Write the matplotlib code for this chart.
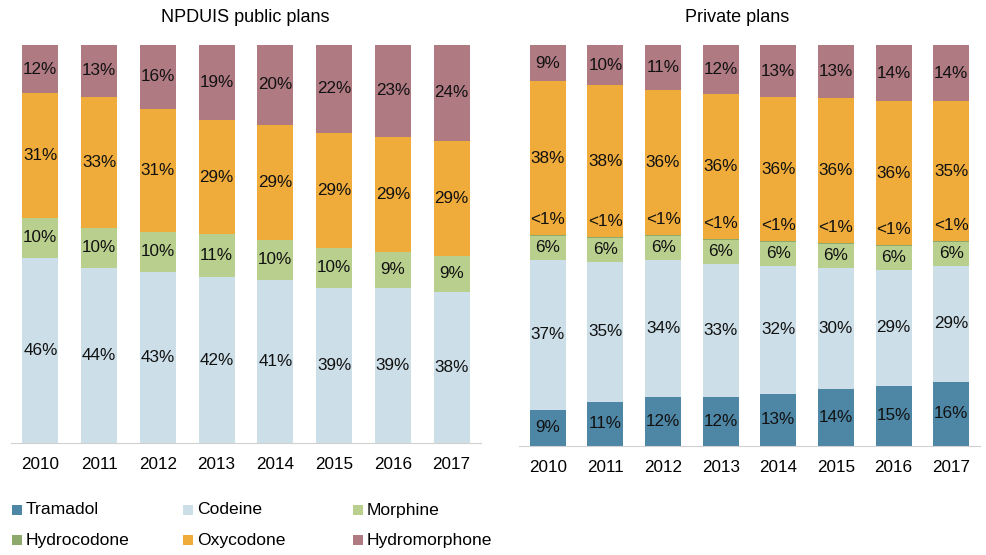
import numpy as np
import matplotlib
matplotlib.use("Agg")
import matplotlib.pyplot as plt
from matplotlib.patches import Rectangle

plt.rcParams['font.family'] = ['Liberation Sans', 'DejaVu Sans']

# Daten
years = ["2010", "2011", "2012", "2013", "2014", "2015", "2016", "2017"]
drugs = ["Tramadol", "Codeine", "Morphine", "Hydrocodone", "Oxycodone", "Hydromorphone"]
colors = ["#4E86A6", "#CCDEE7", "#B9CF8D", "#8DA96B", "#F0AC3B", "#AF7A82"]

# NPDUIS public plans (%)
pub_tramadol = [0, 0, 0, 0, 0, 0, 0, 0]
pub_codeine = [46, 44, 43, 42, 41, 39, 39, 38]
pub_morphine = [10, 10, 10, 11, 10, 10, 9, 9]
pub_hydrocodone = [0, 0, 0, 0, 0, 0, 0, 0]
pub_oxycodone = [31, 33, 31, 29, 29, 29, 29, 29]
pub_hydromorphone = [12, 13, 16, 19, 20, 22, 23, 24]

# Private plans (%); Hydrocodone ist "<1%"
priv_tramadol = [9, 11, 12, 12, 13, 14, 15, 16]
priv_codeine = [37, 35, 34, 33, 32, 30, 29, 29]
priv_morphine = [6, 6, 6, 6, 6, 6, 6, 6]
priv_hydrocodone = [0.1, 0.1, 0.1, 0.1, 0.1, 0.1, 0.1, 0.1]
priv_oxycodone = [38, 38, 36, 36, 36, 36, 36, 35]
priv_hydromorphone = [9, 10, 11, 12, 13, 13, 14, 14]

public = [pub_tramadol, pub_codeine, pub_morphine, pub_hydrocodone,
          pub_oxycodone, pub_hydromorphone]
private = [priv_tramadol, priv_codeine, priv_morphine, priv_hydrocodone,
           priv_oxycodone, priv_hydromorphone]

W, H = 987, 555
fig = plt.figure(figsize=(W / 100, H / 100), dpi=100)


def px_axes(x0, x1, ytop, ybot):
    return fig.add_axes([x0 / W, (H - ybot) / H, (x1 - x0) / W, (ybot - ytop) / H])


def stacked(ax, series, width):
    data = np.array(series, dtype=float)
    data = data / data.sum(axis=0) * 100   # Balken auf 100 % normieren
    x = np.arange(len(years))
    bottom = np.zeros(len(years))
    for i, vals in enumerate(data):
        ax.bar(x, vals, width, bottom=bottom, color=colors[i], linewidth=0)
        for j, v in enumerate(vals):
            raw = series[i][j]
            if raw == 0:
                continue
            if raw < 1:
                ax.text(x[j], bottom[j] + v + 4, "<1%", ha="center",
                        va="center", fontsize=12.3, color="#111111")
            else:
                ax.text(x[j], bottom[j] + v / 2, f"{raw}%", ha="center",
                        va="center", fontsize=12.3, color="#111111")
        bottom += vals
    ax.set_xlim(-0.5, len(years) - 0.5)
    ax.set_ylim(0, 100)
    ax.set_xticks(x)
    ax.set_xticklabels(years, fontsize=12.3)
    ax.tick_params(axis="x", length=0, pad=10)
    ax.set_yticks([])
    for s in ["top", "left", "right"]:
        ax.spines[s].set_visible(False)
    ax.spines["bottom"].set_color("#D0D0D0")


ax1 = px_axes(11, 481, 45, 443)
stacked(ax1, public, 0.61)
ax2 = px_axes(519, 980, 45, 446)
stacked(ax2, private, 0.625)

fig.text(245 / W, 1 - 17 / H, "NPDUIS public plans", ha="center", va="center", fontsize=13)
fig.text(737 / W, 1 - 17 / H, "Private plans", ha="center", va="center", fontsize=13)

# Legende
leg_x = [12, 183, 353]
leg_y = [510, 540]
for k, name in enumerate(drugs):
    lx = leg_x[k % 3]
    ly = leg_y[k // 3]
    fig.add_artist(Rectangle((lx / W, (H - ly - 5) / H), 10 / W, 10 / H,
                             transform=fig.transFigure, color=colors[k], lw=0))
    fig.text((lx + 14) / W, (H - ly) / H, name, ha="left", va="center", fontsize=12.6)

fig.savefig("out.png", dpi=100)
